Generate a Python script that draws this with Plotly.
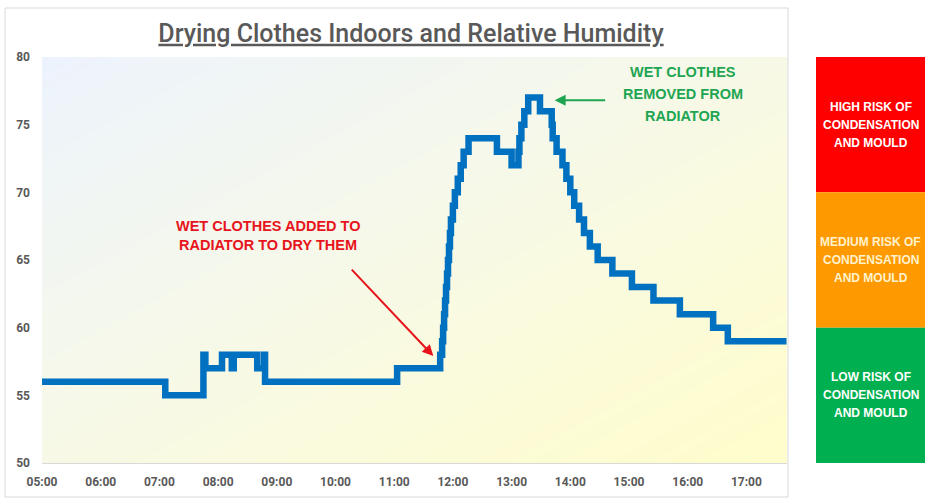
import plotly.graph_objects as go

# ---- data (change points of the relative humidity record, %) ----
times = ["05:00", "07:06", "07:45", "07:47", "08:04", "08:14", "08:16", "08:40", "08:47", "08:48",
         "11:03", "11:47", "11:49", "11:50", "11:51", "11:52", "11:53", "11:54", "11:55", "11:56",
         "11:57", "11:58", "12:00", "12:02", "12:05", "12:08", "12:11", "12:16", "12:45", "13:00",
         "13:07", "13:08", "13:10", "13:13", "13:17", "13:29", "13:41", "13:42", "13:46", "13:52",
         "13:56", "14:00", "14:04", "14:09", "14:14", "14:20", "14:28", "14:43", "15:03", "15:25",
         "15:52", "16:26", "16:41", "17:41"]
humidity = [56, 55, 58, 57, 58, 57, 58, 57, 58, 56,
            57, 58, 59, 60, 61, 62, 63, 64, 65, 66,
            67, 68, 69, 70, 71, 72, 73, 74, 73, 72,
            73, 74, 75, 76, 77, 76, 75, 74, 73, 72,
            71, 70, 69, 68, 67, 66, 65, 64, 63, 62,
            61, 60, 59, 59]

tick_times = ["05:00", "06:00", "07:00", "08:00", "09:00", "10:00", "11:00",
              "12:00", "13:00", "14:00", "15:00", "16:00", "17:00"]
y_ticks = [50, 55, 60, 65, 70, 75, 80]

risk_labels = [["HIGH RISK OF", "CONDENSATION", "AND MOULD"],
               ["MEDIUM RISK OF", "CONDENSATION", "AND MOULD"],
               ["LOW RISK OF", "CONDENSATION", "AND MOULD"]]
risk_bands = [(70, 80), (60, 70), (50, 60)]
risk_colors = ["#FF0000", "#FF9900", "#00B050"]
risk_text_colors = ["#FFFFFF", "#FFF2CC", "#FFFFFF"]

added_label = ["WET CLOTHES ADDED TO", "RADIATOR TO DRY THEM"]
removed_label = ["WET CLOTHES", "REMOVED FROM", "RADIATOR"]

DAY = "2024-01-01 "
x_vals = [DAY + t for t in times]
x_start, x_end = DAY + "05:00", DAY + "17:41:30"

NARROW = "Roboto, Liberation Sans, sans-serif"
BOLD_SANS = "Liberation Sans, Arial, sans-serif"

fig = go.Figure()

# background gradient (decorative)
fig.add_trace(go.Heatmap(
    x=[x_start, x_end], y=[50, 80],
    z=[[0.5, 1.0], [0.0, 0.5]],
    colorscale=[[0, "#EDF3FD"], [0.5, "#F7F9E6"], [1, "#FFFDCB"]],
    zsmooth="best", showscale=False, hoverinfo="skip"))

fig.add_trace(go.Scatter(
    x=x_vals, y=humidity, mode="lines", line_shape="hv",
    line=dict(color="#0070C0", width=6.5), showlegend=False,
    name="Relative Humidity"))

fig.update_layout(
    width=933, height=504,
    margin=dict(l=42, r=146, t=57, b=41),
    paper_bgcolor="white", plot_bgcolor="white",
    showlegend=False,
    title=dict(text="Drying Clothes Indoors and Relative Humidity",
               x=(411 - 42) / 745, xref="paper", xanchor="center",
               y=1 - 33 / 504, yref="container", yanchor="middle",
               font=dict(family=NARROW, size=25, color="#595959", weight=500,
                         lineposition="under")),
    xaxis=dict(type="date", range=[x_start, x_end],
               tickvals=[DAY + t for t in tick_times], ticktext=tick_times,
               showgrid=False, showline=True, linecolor="#D9D9D9", linewidth=1,
               ticks="", ticklabelstandoff=8,
               tickfont=dict(family=NARROW, size=12, color="#595959", weight="bold")),
    yaxis=dict(range=[50, 80], tickvals=y_ticks,
               showgrid=True, gridcolor="#000000", gridwidth=1, griddash="4px,3px",
               zeroline=False, ticks="", ticklabelstandoff=11,
               tickfont=dict(family=NARROW, size=12, color="#595959", weight="bold")),
)


def px_x(px):
    return (px - 42) / 745


def px_y(py):
    return (463 - py) / 406


shapes = [dict(type="rect", xref="paper", yref="paper",
               x0=px_x(5), x1=px_x(788), y0=px_y(497), y1=px_y(8),
               line=dict(color="#D9D9D9", width=1), fillcolor="rgba(0,0,0,0)", layer="below")]
annotations = []
for (y0, y1), col, tcol, lines in zip(risk_bands, risk_colors, risk_text_colors, risk_labels):
    shapes.append(dict(type="rect", xref="paper", yref="y",
                       x0=px_x(816), x1=px_x(925), y0=y0, y1=y1,
                       fillcolor=col, line=dict(width=0)))
    for i, ln in enumerate(lines):
        annotations.append(dict(xref="paper", yref="y", x=px_x(870.5), y=(y0 + y1) / 2,
                                yshift=18 * (1 - i), xanchor="center", yanchor="middle",
                                text=ln, showarrow=False,
                                font=dict(family=BOLD_SANS, size=12, color=tcol,
                                          weight="bold")))

for i, ln in enumerate(added_label):
    annotations.append(dict(xref="paper", yref="paper", x=px_x(268), y=px_y(226 + 19 * i),
                            xanchor="center", yanchor="middle", text=ln, showarrow=False,
                            font=dict(family=BOLD_SANS, size=14.5, color="#E8141C",
                                      weight="bold")))
for i, ln in enumerate(removed_label):
    annotations.append(dict(xref="paper", yref="paper", x=px_x(683), y=px_y(72 + 22 * i),
                            xanchor="center", yanchor="middle", text=ln, showarrow=False,
                            font=dict(family=BOLD_SANS, size=14.5, color="#1EA552",
                                      weight="bold")))

annotations += [
    dict(xref="x", yref="y", x=DAY + "11:40", y=57.9, text="", showarrow=True,
         ax=-83, ay=-88, arrowhead=2, arrowsize=1.1, arrowwidth=2, arrowcolor="#E8141C"),
    dict(xref="x", yref="y", x=DAY + "13:44", y=76.8, text="", showarrow=True,
         ax=52, ay=0, arrowhead=2, arrowsize=1.1, arrowwidth=2, arrowcolor="#1EA552"),
]
fig.update_layout(shapes=shapes, annotations=annotations)

fig.write_html("out.html", config={"displayModeBar": False},
               post_script="document.body.style.margin='0';")
